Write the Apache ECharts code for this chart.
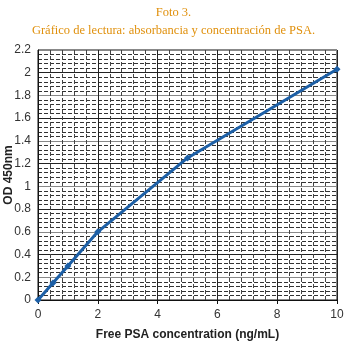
<!DOCTYPE html>
<html>
<head>
<meta charset="utf-8">
<script src="https://cdn.jsdelivr.net/npm/echarts@6/dist/echarts.min.js"></script>
<style>
  html, body { margin: 0; padding: 0; background: #fff; }
  #chart { width: 347px; height: 342px; }
</style>
</head>
<body>
<div id="chart"></div>
<script>
// standard curve
const concentration = [0, 0.5, 1, 2, 5, 10];
const absorbance = [0, 0.15, 0.3, 0.6, 1.25, 2.03];
const titleLines = ['Foto 3.', 'Gráfico de lectura: absorbancia y concentración de PSA.'];
const xName = 'Free PSA concentration (ng/mL)';
const yName = 'OD 450nm';

const chart = echarts.init(document.getElementById('chart'));

const option = {
  animation: false,
  title: {
    text: titleLines.join('\n'),
    left: 'center',
    top: 4,
    padding: 0,
    textStyle: {
      fontFamily: 'Liberation Serif',
      fontWeight: 'normal',
      fontSize: 12.5,
      lineHeight: 18,
      color: '#e0900c',
    },
  },
  grid: {
    left: 38, right: 10, top: 50, bottom: 42,
    outerBoundsMode: 'none',
    show: true, borderColor: '#111', borderWidth: 1,
  },
  xAxis: {
    type: 'value',
    min: 0,
    max: 10,
    interval: 2,
    name: xName,
    nameLocation: 'middle',
    nameGap: 29,
    nameMoveOverlap: false,
    nameTextStyle: { fontFamily: 'Liberation Sans', fontWeight: 'bold', fontSize: 12, color: '#222' },
    axisLine: { show: true, lineStyle: { color: '#111', width: 1 } },
    axisTick: { show: true, length: 4, lineStyle: { color: '#111' } },
    axisLabel: { fontFamily: 'Liberation Sans', fontSize: 12, color: '#333', margin: 9 },
    splitLine: { show: true, lineStyle: { color: '#222', width: 1 } },
    minorTick: { show: false, splitNumber: 5 },
    minorSplitLine: { show: true, lineStyle: { color: '#444', type: [4, 2], width: 1 } },
  },
  yAxis: {
    type: 'value',
    min: 0,
    max: 2.2,
    interval: 0.2,
    name: yName,
    nameLocation: 'middle',
    nameGap: 23,
    nameMoveOverlap: false,
    nameTextStyle: { fontFamily: 'Liberation Sans', fontWeight: 'bold', fontSize: 12, color: '#222' },
    axisLine: { show: true, lineStyle: { color: '#111', width: 1 } },
    axisTick: { show: false },
    axisLabel: { fontFamily: 'Liberation Sans', fontSize: 12, color: '#333', margin: 7 },
    splitLine: { show: true, lineStyle: { color: ['#222', '#888'], width: 1.2 } },
    minorTick: { show: false, splitNumber: 5 },
    minorSplitLine: { show: true, lineStyle: { color: '#333', type: [4, 2], width: 1 } },
  },
  series: [
    {
      type: 'line',
      data: concentration.map((x, i) => [x, absorbance[i]]),
      symbol: 'diamond',
      symbolSize: 7,
      lineStyle: { color: '#1c5fa6', width: 3 },
      itemStyle: { color: '#1c5fa6' },
      z: 5,
    },
  ],
};

chart.setOption(option);
</script>
</body>
</html>
